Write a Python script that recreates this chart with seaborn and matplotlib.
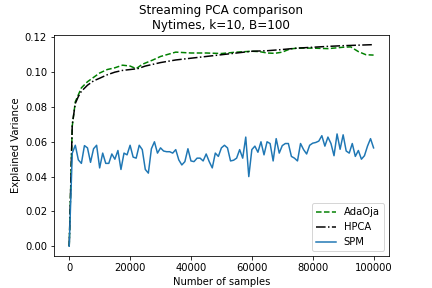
import numpy as np
import seaborn as sns
from matplotlib import pyplot as plt

# SPM sampled every 1000 samples
spm_x = np.arange(0, 100001, 1000)
spm_y = [0.0, 0.0535, 0.058, 0.0496, 0.0476, 0.0578, 0.0565, 0.0482, 0.056, 0.058,
         0.045, 0.0535, 0.0476, 0.0476, 0.053, 0.050, 0.055, 0.0441, 0.0535, 0.0525,
         0.058, 0.0512, 0.0506, 0.058, 0.0555, 0.0441, 0.042, 0.056, 0.060, 0.0535,
         0.0565, 0.0547, 0.0543, 0.0543, 0.0535, 0.0555, 0.0496, 0.0467, 0.0486, 0.056,
         0.049, 0.0486, 0.0506, 0.0506, 0.049, 0.053, 0.0486, 0.045, 0.0535, 0.0516,
         0.0565, 0.058, 0.0565, 0.049, 0.0494, 0.0506, 0.0555, 0.0506, 0.0627, 0.040,
         0.0555, 0.0575, 0.054, 0.060, 0.0525, 0.060, 0.059, 0.049, 0.0618, 0.0535,
         0.0578, 0.059, 0.059, 0.0516, 0.0506, 0.049, 0.059, 0.0555, 0.053, 0.058,
         0.0592, 0.0596, 0.0604, 0.0635, 0.0575, 0.0627, 0.059, 0.052, 0.0645, 0.0557,
         0.064, 0.0547, 0.0535, 0.059, 0.0516, 0.055, 0.050, 0.052, 0.0575, 0.0618,
         0.0565]

ada_x = [0, 1000, 2000, 3000, 4000, 6000, 8000, 10000, 12500, 15000, 17500, 20000,
         22000, 24000, 27500, 30000, 35000, 40000, 45000, 50000, 55000, 60000, 62500,
         65000, 67500, 70000, 72500, 75000, 80000, 85000, 90000, 92500, 95000, 97500,
         100000]
ada_y = [0.0, 0.069, 0.083, 0.087, 0.091, 0.0945, 0.097, 0.0995, 0.1015, 0.1025,
         0.104, 0.1035, 0.102, 0.1045, 0.107, 0.109, 0.1115, 0.111, 0.111, 0.1107,
         0.1115, 0.112, 0.1118, 0.111, 0.1108, 0.1115, 0.1133, 0.1138, 0.1138, 0.1135,
         0.1143, 0.1145, 0.1118, 0.110, 0.1098]

hpca_x = [0, 1000, 2000, 3000, 4000, 6000, 8000, 10000, 12500, 15000, 17500, 20000,
          22500, 25000, 27500, 30000, 35000, 40000, 45000, 50000, 55000, 60000, 65000,
          70000, 75000, 80000, 85000, 90000, 95000, 100000]
hpca_y = [0.0, 0.070, 0.082, 0.086, 0.089, 0.0925, 0.095, 0.0965, 0.0985, 0.100,
          0.101, 0.1015, 0.102, 0.1035, 0.1045, 0.1055, 0.107, 0.108, 0.109, 0.110,
          0.111, 0.112, 0.1123, 0.113, 0.1138, 0.1143, 0.1148, 0.1152, 0.1155, 0.1158]

fig, ax = plt.subplots(figsize=(6, 4), dpi=72)

sns.lineplot(x=ada_x, y=ada_y, ax=ax, color="g", linestyle="--", label="AdaOja")
sns.lineplot(x=hpca_x, y=hpca_y, ax=ax, color="k", linestyle="-.", label="HPCA")
sns.lineplot(x=spm_x, y=spm_y, ax=ax, color="C0", label="SPM")

ax.set_title("Streaming PCA comparison\nNytimes, k=10, B=100")
ax.set_xlabel("Number of samples")
ax.set_ylabel("Explained Variance")
ax.legend(loc="lower right")

plt.savefig("out.png", dpi=72)
